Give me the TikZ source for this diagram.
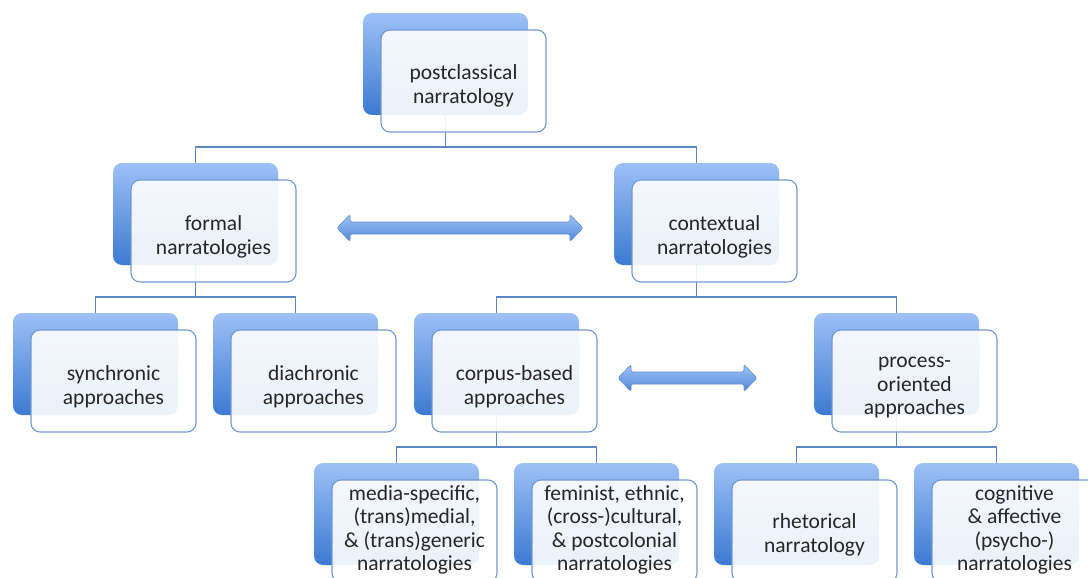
\documentclass[tikz,border=0pt]{standalone}
\usepackage{fontspec}
\setmainfont{Carlito}
\usetikzlibrary{backgrounds}

\definecolor{backtop}{HTML}{9DC0F6}
\definecolor{backbot}{HTML}{3C7AD1}
\definecolor{frameblue}{HTML}{7099D0}
\definecolor{linkblue}{HTML}{5B87C4}
\definecolor{inkgray}{HTML}{262626}
\definecolor{arrowtop}{HTML}{A2C4F7}
\definecolor{arrowbot}{HTML}{4E86D6}
\definecolor{arrowedge}{HTML}{5E8ED2}

\tikzset{
  backbox/.style={rounded corners=9pt, minimum width=165pt, minimum height=102pt,
    inner sep=0pt, top color=backtop, bottom color=backbot, draw=none},
  frontbox/.style={rounded corners=9pt, minimum width=165pt, minimum height=102pt,
    inner sep=0pt, draw=frameblue, line width=1.1pt, fill=white, fill opacity=0.9},
  cardtext/.style={inner sep=0pt, text=inkgray, align=center,
    font=\fontsize{21.5}{23.5}\selectfont},
  link/.style={draw=linkblue, line width=1.3pt},
  twoway/.style={rounded corners=2pt, top color=arrowtop, bottom color=arrowbot,
    draw=arrowedge, line width=0.6pt},
}

% #1 name, #2/#3 top-left corner of the shaded back card,
% #4 downward offset of the label, #5 label
\newcommand\conceptpair[5]{%
  \node[backbox] (#1b) at (#2+82.5,#3+51) {};
  \node[frontbox] (#1) at (#2+100.5,#3+68) {};
  \node[cardtext] (#1t) at ([yshift=-#4pt]#1.center) {#5};
}

% #1 left tip x, #2 right tip x, #3 centre line y
\newcommand\twowayarrow[3]{%
  \path[twoway] (#1,#3) -- (#1+13,#3-13.5) -- (#1+13,#3-6) -- (#2-13,#3-6)
    -- (#2-13,#3-13.5) -- (#2,#3) -- (#2-13,#3+13.5) -- (#2-13,#3+6)
    -- (#1+13,#3+6) -- (#1+13,#3+13.5) -- cycle;
}

\begin{document}
\begin{tikzpicture}[x=1pt,y=-1pt]
  \useasboundingbox (0,0) rectangle (1088,578);
  \clip (0,0) rectangle (1088,578);

  \conceptpair{top}{363}{13}{5}{postclassical\\narratology}
  \conceptpair{formal}{113}{163}{6}{formal\\narratologies}
  \conceptpair{contextual}{614}{163}{6}{contextual\\narratologies}
  \conceptpair{synchronic}{13}{313}{6}{synchronic\\approaches}
  \conceptpair{diachronic}{213}{313}{6}{diachronic\\approaches}
  \conceptpair{corpus}{414}{313}{6}{corpus-based\\approaches}
  \conceptpair{process}{814}{313}{7}{process-\\oriented\\approaches}
  \conceptpair{media}{314}{463}{-1}{media-specific,\\(trans)medial,\\\& (trans)generic\\narratologies}
  \conceptpair{feminist}{514}{463}{-1}{feminist, ethnic,\\(cross-)cultural,\\\& postcolonial\\narratologies}
  \conceptpair{rhetorical}{714}{463}{4}{rhetorical\\narratology}
  \conceptpair{cognitive}{914}{463}{-1}{cognitive\\\& affective\\(psycho-)\\narratologies}

  \twowayarrow{337}{583}{228}
  \twowayarrow{618}{757}{378}

  \coordinate (bar1) at (0,147);
  \coordinate (bar2) at (0,297);
  \coordinate (bar3) at (0,447);

  \begin{scope}[on background layer]
    \draw[link] (topb.center) -- (topb.center |- bar1) -| (formalb.center);
    \draw[link] (topb.center |- bar1) -| (contextualb.center);
    \draw[link] (formalb.center) -- (formalb.center |- bar2) -| (synchronicb.center);
    \draw[link] (formalb.center |- bar2) -| (diachronicb.center);
    \draw[link] (contextualb.center) -- (contextualb.center |- bar2) -| (corpusb.center);
    \draw[link] (contextualb.center |- bar2) -| (processb.center);
    \draw[link] (corpusb.center) -- (corpusb.center |- bar3) -| (mediab.center);
    \draw[link] (corpusb.center |- bar3) -| (feministb.center);
    \draw[link] (processb.center) -- (processb.center |- bar3) -| (rhetoricalb.center);
    \draw[link] (processb.center |- bar3) -| (cognitiveb.center);
  \end{scope}
\end{tikzpicture}
\end{document}
